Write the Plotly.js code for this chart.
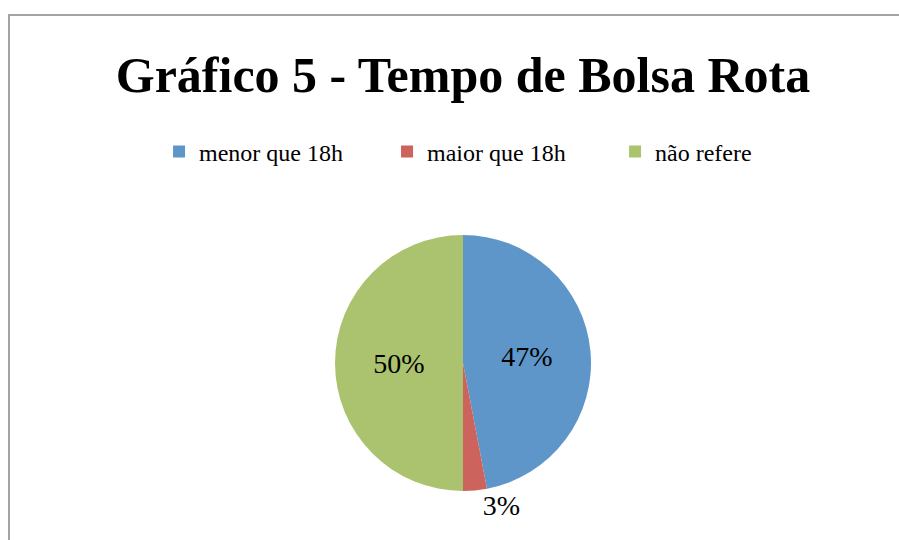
<!DOCTYPE html>
<html>
<head>
<meta charset="utf-8">
<script src="https://cdn.plot.ly/plotly-3.0.1.min.js"></script>
<style>
  html, body { margin: 0; padding: 0; background: #ffffff; overflow: hidden; width: 899px; height: 540px; }
  #chart { position: absolute; left: 8px; top: 14px; width: 906px; height: 540px;
           border-top: 2px solid #a3a3a3; border-left: 2px solid #a3a3a3; box-sizing: border-box; }
</style>
</head>
<body>
<div id="chart"></div>
<script>
const categories = ["menor que 18h", "maior que 18h", "não refere"];
const percentages = [47, 3, 50];
const sliceColors = ["#5f96ca", "#cc635c", "#abc36e"];
const chartTitle = "Gráfico 5 - Tempo de Bolsa Rota";

const W = 906, H = 540;
const cx = 453, cy = 347, R = 128;

const trace = {
  type: "pie",
  labels: categories,
  values: percentages,
  sort: false,
  direction: "clockwise",
  rotation: 0,
  marker: { colors: sliceColors, line: { width: 0 } },
  textinfo: "percent",
  texttemplate: "%{percent:.0%}",
  textposition: "auto",
  insidetextorientation: "horizontal",
  textfont: { family: "Liberation Serif, DejaVu Serif, serif", size: 28, color: "#000000" },
  hoverinfo: "label+percent",
  domain: {
    x: [(cx - R) / W, (cx + R) / W],
    y: [(H - cy - R) / H, (H - cy + R) / H]
  },
  showlegend: true
};

const layout = {
  width: W,
  height: H,
  margin: { l: 0, r: 0, t: 0, b: 0, pad: 0 },
  paper_bgcolor: "rgba(0,0,0,0)",
  plot_bgcolor: "rgba(0,0,0,0)",
  title: {
    text: "<b>" + chartTitle + "</b>",
    font: { family: "Liberation Serif, DejaVu Serif, serif", size: 50, color: "#000000" },
    x: 0.5, xanchor: "center",
    y: 1 - 58 / H, yanchor: "middle",
    xref: "paper", yref: "container"
  },
  legend: {
    orientation: "h",
    x: 0.542, xanchor: "center",
    y: 1 - 136 / H, yanchor: "middle",
    font: { family: "Liberation Serif, DejaVu Serif, serif", size: 24, color: "#000000" },
    bgcolor: "rgba(0,0,0,0)",
    itemwidth: 30,
    entrywidth: 183,
    entrywidthmode: "pixels",
    traceorder: "normal"
  }
};

Plotly.newPlot("chart", [trace], layout, { displayModeBar: false, staticPlot: true });
</script>
</body>
</html>
